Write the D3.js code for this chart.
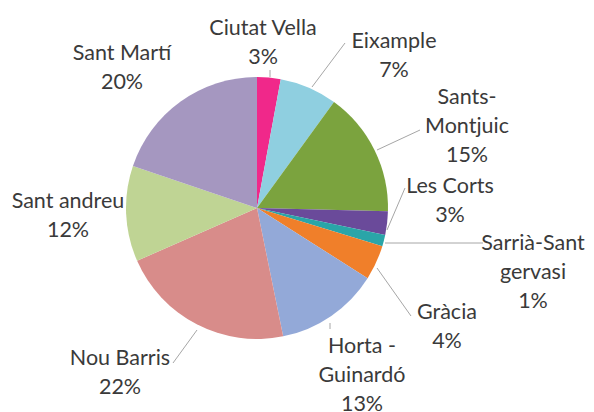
<!DOCTYPE html>
<html>
<head>
  <style>
    body, html { margin: 0; padding: 0; background: #fff; }
    text { font-family: "Lato", sans-serif; font-size: 21.5px; fill: #3a3a3a; }
  </style>
</head>
<body>
  <svg id="svg" width="594" height="412"></svg>
  <script src="https://d3js.org/d3.v7.min.js"></script>
  <script>
    const districts = ["Ciutat Vella", "Eixample", "Sants-Montjuic", "Les Corts", "Sarrià-Sant gervasi",
      "Gràcia", "Horta - Guinardó", "Nou Barris", "Sant andreu", "Sant Martí"]
    const values = [2.9, 7.1, 15.4, 2.9, 1.4, 4.3, 12.8, 21.6, 11.8, 19.8]
    const colors = ["#f0288a", "#8fcfe0", "#7ba33e", "#6a4a9a", "#2aa5a8",
      "#f07f2a", "#93a9d8", "#d88c8a", "#bfd494", "#a597c0"]
    // label lines as drawn in the chart
    const labelLines = [["Ciutat Vella"], ["Eixample"], ["Sants-", "Montjuic"], ["Les Corts"], ["Sarrià-Sant", "gervasi"],
      ["Gràcia"], ["Horta -", "Guinardó"], ["Nou Barris"], ["Sant andreu"], ["Sant Martí"]]

    const cx = 257, cy = 208, r = 131
    const svg = d3.select("#svg")
    const g = svg.append("g").attr("transform", `translate(${cx},${cy})`)

    const pie = d3.pie().sort(null).value(d => d)
    const arcs = pie(values)
    const arc = d3.arc().innerRadius(0).outerRadius(r)

    g.selectAll("path")
      .data(arcs)
      .join("path")
      .attr("d", arc)
      .attr("fill", (d, i) => colors[i])

    const total = d3.sum(values)

    // label anchor (text centre of first line, relative to pie centre) and leader line points
    const labelPos = [
      { x: 6, y: -181, line: [[13, -138], [13, -131]] },
      { x: 137, y: -168, line: [[55, -121], [88, -165]] },
      { x: 210, y: -112, line: [[120, -58], [163, -78]] },
      { x: 193, y: -23, line: [[130, 22], [148, -20]] },
      { x: 276, y: 34, line: [[128, 35], [226, 35]] },
      { x: 190, y: 103, line: [[120, 60], [154, 108]] },
      { x: 105, y: 137, line: [[73, 115], [73, 121]] },
      { x: -137, y: 149, line: [[-60, 122], [-84, 155]] },
      { x: -189, y: -8, line: null },
      { x: -135, y: -156, line: null }
    ]

    g.selectAll("polyline")
      .data(labelPos.filter(p => p.line))
      .join("polyline")
      .attr("points", p => p.line.map(q => q.join(",")).join(" "))
      .attr("fill", "none")
      .attr("stroke", "#a6a6a6")
      .attr("stroke-width", 1)

    const lh = 29
    labelPos.forEach((p, i) => {
      const lines = labelLines[i].concat([Math.round(values[i] / total * 100) + "%"])
      const t = g.append("text").attr("text-anchor", "middle")
      lines.forEach((s, k) => {
        t.append("tspan")
          .attr("x", p.x)
          .attr("y", p.y + k * lh)
          .attr("dy", "0.35em")
          .text(s)
      })
    })
  </script>
</body>
</html>
